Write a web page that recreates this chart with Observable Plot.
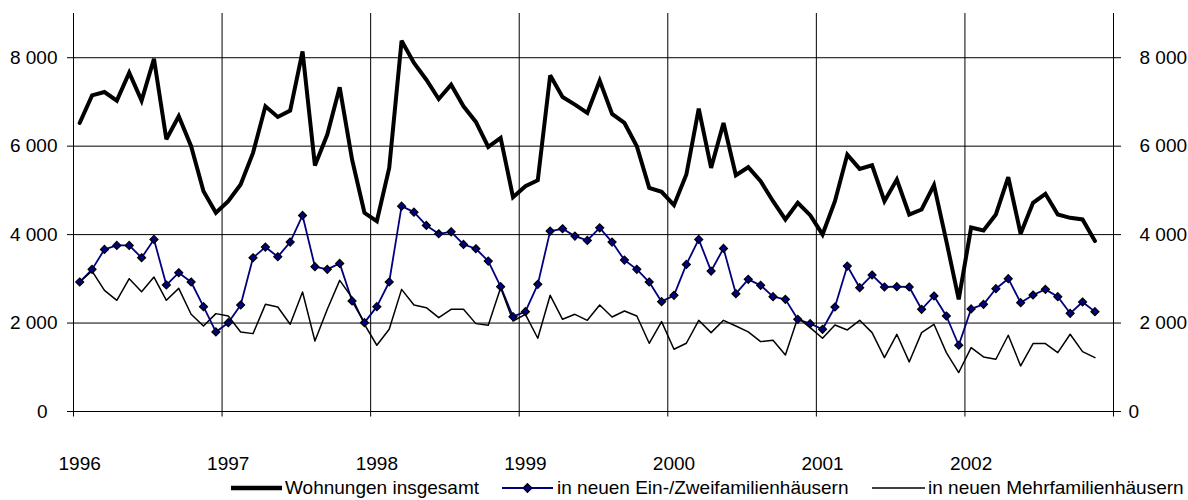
<!DOCTYPE html>
<html><head><meta charset="utf-8">
<script src="https://cdn.jsdelivr.net/npm/d3@7"></script>
<script src="https://cdn.jsdelivr.net/npm/@observablehq/plot@0.6"></script>
<style>
body{margin:0;background:#fff;font-family:"Liberation Sans",Arial,sans-serif;color:#000;}
#wrap{position:relative;width:1188px;height:500px;overflow:hidden;}
#legend{position:absolute;top:475px;left:0;width:1188px;height:25px;font-size:19px;}
.item{position:absolute;top:0;height:25px;display:flex;align-items:center;white-space:nowrap;}
.item svg{display:block;}
</style></head><body>
<div id="wrap"><div id="chart"></div><div id="legend"></div></div>
<script>
// Monthly values Jan 1996 – Nov 2002
const yearLabels = ["1996", "1997", "1998", "1999", "2000", "2001", "2002"];
const seriesNames = ["Wohnungen insgesamt", "in neuen Ein-/Zweifamilienhäusern", "in neuen Mehrfamilienhäusern"];

const total = [
  6525, 7150, 7225, 7029, 7661, 7029, 7977, 6156, 6676, 5998, 4982, 4493,
  4756, 5133, 5848, 6901, 6660, 6803, 8143, 5562, 6262, 7330, 5697, 4493,
  4305, 5509, 8384, 7880, 7503, 7067, 7390, 6901, 6548, 5983, 6186, 4847,
  5095, 5231, 7601, 7112, 6939, 6751, 7481, 6728, 6525, 5998, 5057, 4967,
  4666, 5358, 6849, 5509, 6525, 5343, 5524, 5208, 4756, 4343, 4719, 4440,
  4004, 4756, 5810, 5486, 5569, 4756, 5246, 4455, 4568, 5118, 3853, 2536,
  4160, 4094, 4455, 5298, 4019, 4719, 4922, 4455, 4380, 4343, 3853
];
const efh = [
  2928, 3214, 3665, 3755, 3755, 3477, 3891, 2860, 3138, 2928, 2371, 1799,
  2009, 2408, 3477, 3718, 3500, 3831, 4433, 3274, 3214, 3349, 2499, 2009,
  2371, 2928, 4644, 4508, 4207, 4019, 4064, 3778, 3680, 3402, 2822, 2145,
  2258, 2875, 4079, 4132, 3966, 3868, 4154, 3831, 3424, 3214, 2928, 2484,
  2627, 3326, 3891, 3176, 3688, 2664, 2988, 2853, 2596, 2536, 2085, 1987,
  1859, 2363, 3289, 2800, 3086, 2815, 2822, 2815, 2311, 2612, 2160, 1498,
  2320, 2423, 2777, 3003, 2461, 2634, 2762, 2596, 2220, 2476, 2258
];
const mfh = [
  2928, 3176, 2739, 2514, 3003, 2709, 3040, 2514, 2785, 2198, 1934, 2213,
  2160, 1799, 1761, 2423, 2363, 1972, 2702, 1595, 2311, 2965, 2574, 1972,
  1498, 1859, 2762, 2408, 2348, 2122, 2311, 2311, 1987, 1949, 2800, 2047,
  2198, 1656, 2627, 2085, 2198, 2062, 2408, 2137, 2273, 2160, 1543, 2032,
  1407, 1543, 2062, 1784, 2062, 1934, 1799, 1580, 1611, 1279, 2122, 1897,
  1656, 1957, 1844, 2062, 1784, 1219, 1746, 1121, 1784, 1972, 1332, 881,
  1445, 1234, 1182, 1724, 1031, 1535, 1535, 1332, 1746, 1355, 1219
];
const yTicks = [0, 2000, 4000, 6000, 8000];

// build table: month index -> category center
const rows = (arr) => arr.map((v, i) => ({m: i + 0.5, v}));
const nMonths = yearLabels.length * 12;
const yearBounds = d3.range(0, nMonths + 1, 12);
const yearCenters = yearLabels.map((_, k) => k * 12 + 0.5);
const fmt = v => d3.format(",")(v).replace(/,/g, " ");

const chart = Plot.plot({
  width: 1188,
  height: 475,
  marginLeft: 73,
  marginRight: 75,
  marginTop: 13,
  marginBottom: 64,
  style: {fontFamily: "'Liberation Sans', Arial, sans-serif", fontSize: "19px", color: "#000", background: "#fff"},
  x: {type: "linear", domain: [0, nMonths], axis: null},
  y: {domain: [0, 9000], axis: null},
  marks: [
    Plot.ruleY(yTicks.filter(d => d > 0), {stroke: "#000", strokeWidth: 1}),
    Plot.ruleX(yearBounds, {stroke: "#000", strokeWidth: 1}),
    Plot.ruleY([0], {stroke: "#000", strokeWidth: 1}),
    // x ticks and labels
    Plot.axisX(yearBounds, {anchor: "bottom", tickSize: 5.5, tickFormat: () => "", stroke: "#000", label: null}),
    Plot.axisX(yearCenters, {anchor: "bottom", tickSize: 0, tickPadding: 45, tickFormat: (d, i) => yearLabels[i], label: null}),
    // left y axis
    Plot.axisY(yTicks.filter(d => d > 0), {anchor: "left", tickSize: 6, tickPadding: 10, tickFormat: fmt, label: null}),
    Plot.axisY([0], {anchor: "left", tickSize: 6, tickPadding: 20, tickFormat: fmt, label: null}),
    // right y axis
    Plot.axisY(yTicks.filter(d => d > 0), {anchor: "right", tickSize: 7, tickPadding: 19, tickFormat: fmt, label: null}),
    Plot.axisY([0], {anchor: "right", tickSize: 7, tickPadding: 8, tickFormat: fmt, label: null}),
    // series
    Plot.lineY(rows(total), {x: "m", y: "v", stroke: "#000", strokeWidth: 4, strokeLinejoin: "miter", strokeMiterlimit: 3}),
    Plot.lineY(rows(efh), {x: "m", y: "v", stroke: "#000080", strokeWidth: 1.8}),
    Plot.lineY(rows(mfh), {x: "m", y: "v", stroke: "#000", strokeWidth: 1.5}),
    Plot.dot(rows(efh), {x: "m", y: "v", symbol: "diamond2", r: 3.6, fill: "#000080", stroke: "#000", strokeWidth: 1.2})
  ]
});
document.getElementById("chart").appendChild(chart);

// legend
const legend = document.getElementById("legend");
const legItems = [
  {left: 231, w: 51, gap: 3, draw: '<line x1="0" x2="51" y1="13" y2="13" stroke="#000" stroke-width="4.5"/>'},
  {left: 502, w: 51, gap: 4, draw: '<line x1="0" x2="51" y1="13" y2="13" stroke="#000080" stroke-width="1.8"/><path d="M25.5 8.6L29.9 13L25.5 17.4L21.1 13Z" fill="#000080" stroke="#000" stroke-width="1.2"/>'},
  {left: 872, w: 53, gap: 3, draw: '<line x1="0" x2="53" y1="13" y2="13" stroke="#000" stroke-width="1.5"/>'}
];
legItems.forEach((it, i) => {
  const d = document.createElement("div");
  d.className = "item";
  d.style.left = it.left + "px";
  d.innerHTML = `<svg width="${it.w}" height="25">${it.draw}</svg><span style="margin-left:${it.gap}px">${seriesNames[i]}</span>`;
  legend.appendChild(d);
});
</script>
</body></html>
